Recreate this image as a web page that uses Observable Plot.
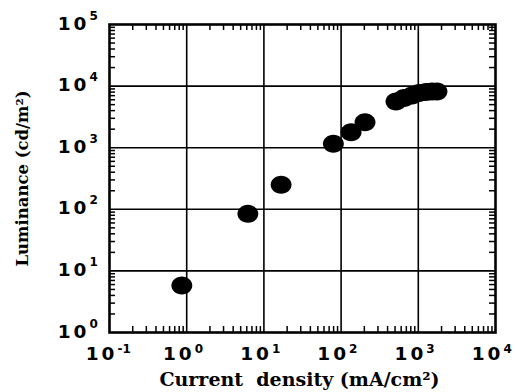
<!DOCTYPE html>
<html>
<head>
<meta charset="utf-8">
<script src="https://cdn.jsdelivr.net/npm/d3@7"></script>
<script src="https://cdn.jsdelivr.net/npm/@observablehq/plot@0.6"></script>
<style>
  html, body { margin: 0; padding: 0; background: #fff; }
  /* decade base "10" labels are set wide */
  g[font-size="18.5"] text { letter-spacing: 3px; }
</style>
</head>
<body>
<div id="chart"></div>
<script>
// Luminance versus current density (log–log)
const currentDensity = [0.865, 6.2, 16.7, 79.4, 134.6, 204, 514, 653, 829, 1021, 1259, 1506, 1746]; // mA/cm²
const luminance      = [5.8, 84.5, 250, 1157, 1785, 2594, 5623, 6410, 7037, 7730, 8020, 8170, 8170]; // cd/m²

// Axis decades and their exponent labels
const xDecades   = [0.1, 1, 10, 100, 1000, 10000];
const xExponents = ["-1", "0", "1", "2", "3", "4"];
const yDecades   = [1, 10, 100, 1000, 10000, 100000];
const yExponents = ["0", "1", "2", "3", "4", "5"];
const tickBase = "10";

const xTitle = "Current\u00a0 density (mA/cm²)";
const yTitle = "Luminance (cd/m²)";

const points = currentDensity.map((x, i) => ({x, y: luminance[i]}));

// Minor ticks at 2..9 within each decade
const minors = (decades) => decades.slice(0, -1).flatMap(d => d3.range(2, 10).map(k => d * k));
const xMinor = minors(xDecades);
const yMinor = minors(yDecades);

const W = 515, H = 392;
const mL = 109, mR = 20, mT = 24, mB = 60;
const innerW = W - mL - mR, innerH = H - mT - mB;
const tickLen = 6;

// Slightly wide filled ellipse for the markers
const ellipse = {
  draw(ctx, size) {
    const r = Math.sqrt(size / Math.PI);
    const rx = r * 1.1, ry = r * 0.95, k = 0.5523;
    ctx.moveTo(rx, 0);
    ctx.bezierCurveTo(rx, ry * k, rx * k, ry, 0, ry);
    ctx.bezierCurveTo(-rx * k, ry, -rx, ry * k, -rx, 0);
    ctx.bezierCurveTo(-rx, -ry * k, -rx * k, -ry, 0, -ry);
    ctx.bezierCurveTo(rx * k, -ry, rx, -ry * k, rx, 0);
    ctx.closePath();
  }
};

const sans = "'DejaVu Sans', 'Liberation Sans', sans-serif";
const serif = "'DejaVu Serif', 'Liberation Serif', serif";

const chart = Plot.plot({
  width: W,
  height: H,
  marginLeft: mL,
  marginRight: mR,
  marginTop: mT,
  marginBottom: mB,
  x: {type: "log", domain: [0.1, 10000], axis: null},
  y: {type: "log", domain: [1, 100000], axis: null},
  style: {background: "#fff"},
  marks: [
    // decade grid
    Plot.ruleX(xDecades.slice(1, -1), {stroke: "#000", strokeWidth: 1.6}),
    Plot.ruleY(yDecades.slice(1, -1), {stroke: "#000", strokeWidth: 1.6}),
    // inward minor ticks on all four sides
    Plot.tickX(xMinor, {x: d => d, insetTop: innerH - tickLen, stroke: "#000", strokeWidth: 1.5}),
    Plot.tickX(xMinor, {x: d => d, insetBottom: innerH - tickLen, stroke: "#000", strokeWidth: 1.5}),
    Plot.tickY(yMinor, {y: d => d, insetRight: innerW - tickLen, stroke: "#000", strokeWidth: 1.5}),
    Plot.tickY(yMinor, {y: d => d, insetLeft: innerW - tickLen, stroke: "#000", strokeWidth: 1.5}),
    Plot.frame({stroke: "#000", strokeWidth: 2.6}),
    // data
    Plot.dot(points, {x: "x", y: "y", r: 9.5, symbol: ellipse, fill: "#000", stroke: "none"}),
    // x tick labels
    Plot.text(xDecades, {x: d => d, frameAnchor: "bottom", text: () => tickBase, textAnchor: "end", lineAnchor: "bottom",
      dx: 8, dy: 27, fontSize: 18.5, fontWeight: "bold", fontFamily: sans, fill: "#000"}),
    Plot.text(xDecades, {x: d => d, frameAnchor: "bottom", text: (d, i) => xExponents[i], textAnchor: "start", lineAnchor: "bottom",
      dx: 8, dy: 20, fontSize: 12, fontWeight: "bold", fontFamily: sans, fill: "#000"}),
    // y tick labels
    Plot.text(yDecades, {y: d => d, frameAnchor: "left", text: () => tickBase, textAnchor: "end", lineAnchor: "bottom",
      dx: -20, dy: 5, fontSize: 18.5, fontWeight: "bold", fontFamily: sans, fill: "#000"}),
    Plot.text(yDecades, {y: d => d, frameAnchor: "left", text: (d, i) => yExponents[i], textAnchor: "start", lineAnchor: "bottom",
      dx: -20, dy: -5, fontSize: 12, fontWeight: "bold", fontFamily: sans, fill: "#000"}),
    // axis titles
    Plot.text([xTitle], {frameAnchor: "bottom", text: d => d, textAnchor: "middle", lineAnchor: "bottom", dy: 53, dx: -3,
      fontSize: 19, fontWeight: "bold", fontFamily: serif, fill: "#000"}),
    Plot.text([yTitle], {frameAnchor: "left", text: d => d, textAnchor: "middle", rotate: -90, dx: -87,
      fontSize: 16.5, fontWeight: "bold", fontFamily: serif, fill: "#000"})
  ]
});

document.getElementById("chart").appendChild(chart);
</script>
</body>
</html>
